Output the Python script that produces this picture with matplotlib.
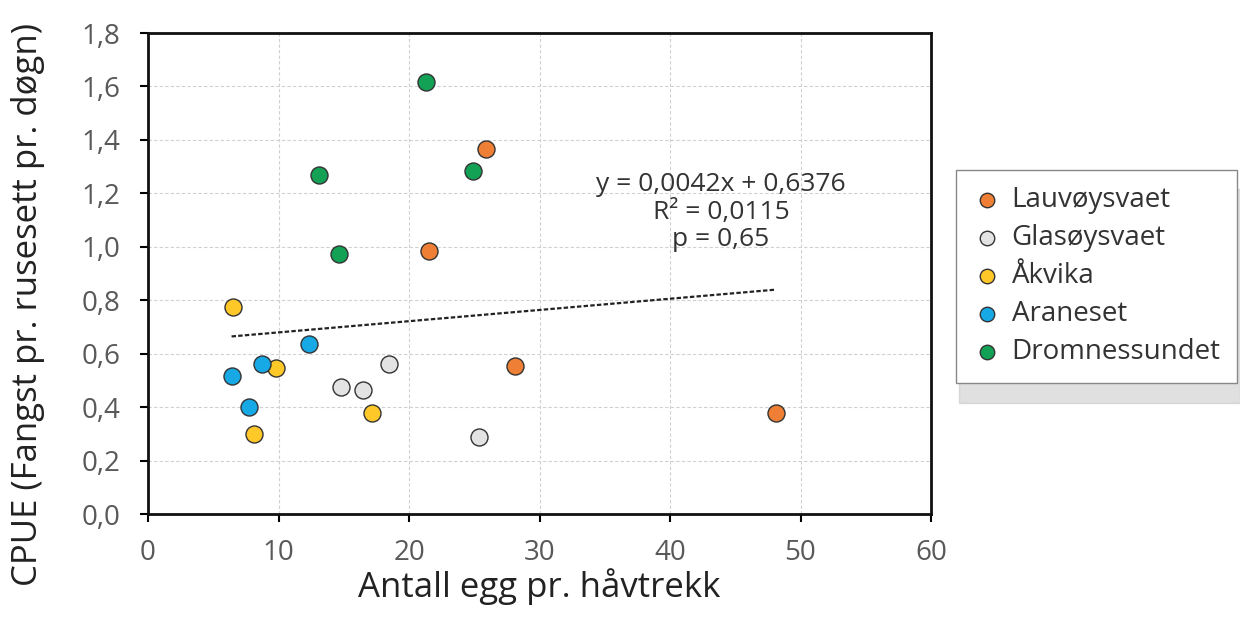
import matplotlib.pyplot as plt

plt.rcParams['font.family'] = ['Open Sans', 'DejaVu Sans']

# data
sites = ['Lauvøysvaet', 'Glasøysvaet', 'Åkvika', 'Araneset', 'Dromnessundet']
colors = ['#EE7F34', '#E3E3E3', '#FFC829', '#17A8E6', '#12A155']

lauv_x = [25.9, 21.5, 28.1, 48.1]
lauv_y = [1.367, 0.986, 0.555, 0.379]
glas_x = [14.8, 16.5, 18.5, 25.4]
glas_y = [0.477, 0.463, 0.562, 0.287]
akvika_x = [6.5, 9.8, 8.1, 17.2]
akvika_y = [0.776, 0.547, 0.301, 0.379]
aran_x = [6.4, 8.7, 7.7, 12.3]
aran_y = [0.517, 0.563, 0.401, 0.638]
drom_x = [21.3, 13.1, 24.9, 14.6]
drom_y = [1.618, 1.268, 1.282, 0.973]

xs = [lauv_x, glas_x, akvika_x, aran_x, drom_x]
ys = [lauv_y, glas_y, akvika_y, aran_y, drom_y]

slope = 0.0042
intercept = 0.6376
eq_text = 'y = 0,0042x + 0,6376\nR² = 0,0115\np = 0,65'

xticks = [0, 10, 20, 30, 40, 50, 60]
yticks = [0.0, 0.2, 0.4, 0.6, 0.8, 1.0, 1.2, 1.4, 1.6, 1.8]

fig = plt.figure(figsize=(12.4, 6.31), dpi=100)
ax = fig.add_axes([0.1194, 0.1854, 0.6314, 0.7623])

for name, c, x, y in zip(sites, colors, xs, ys):
    ax.scatter(x, y, s=150, color=c, edgecolor='#333333', linewidth=1.0, zorder=3, label=name)

# trend line over all points
all_x = [v for x in xs for v in x]
x0, x1 = min(all_x), max(all_x)
ax.plot([x0, x1], [slope * x0 + intercept, slope * x1 + intercept], color='#222222',
        linestyle=(0, (2, 1)), linewidth=1.6, zorder=2)
ax.text(43.9, 1.13, eq_text, ha='center', va='center', fontsize=19, color='#333333',
        linespacing=1.12)

ax.set_xlim(0, 60)
ax.set_ylim(0, 1.8)
ax.set_xticks(xticks)
ax.set_yticks(yticks)
ax.set_xticklabels([str(t) for t in xticks])
ax.set_yticklabels([('%.1f' % t).replace('.', ',') for t in yticks])
ax.tick_params(axis='both', labelsize=20, labelcolor='#595959', length=6, width=1.5,
               direction='out')
ax.tick_params(axis='y', pad=14)
ax.tick_params(axis='x', pad=12)
ax.grid(True, color='#D0D0D0', linestyle=(0, (3, 2)), linewidth=0.8)
ax.set_axisbelow(True)
for s in ax.spines.values():
    s.set_linewidth(2)
    s.set_color('#111111')

ax.set_xlabel('Antall egg pr. håvtrekk', fontsize=25, color='#222222', labelpad=1)
ax.set_ylabel('CPUE (Fangst pr. rusesett pr. døgn)', fontsize=25, color='#222222')
ax.yaxis.set_label_coords(-0.132, 0.435)

leg = fig.legend(loc='upper left', bbox_to_anchor=(0.771, 0.731), bbox_transform=fig.transFigure,
                 fontsize=20, frameon=True, fancybox=False, borderaxespad=0,
                 handlelength=1.0, handletextpad=0.4, labelspacing=0.36, borderpad=0.6,
                 markerscale=0.85,
                 shadow={'ox': 2, 'oy': -14, 'color': '#BBBBBB', 'alpha': 0.45})
leg.get_frame().set_edgecolor('#888888')
leg.get_frame().set_linewidth(1.0)
for t in leg.get_texts():
    t.set_color('#333333')

plt.savefig('out.png', dpi=100)
